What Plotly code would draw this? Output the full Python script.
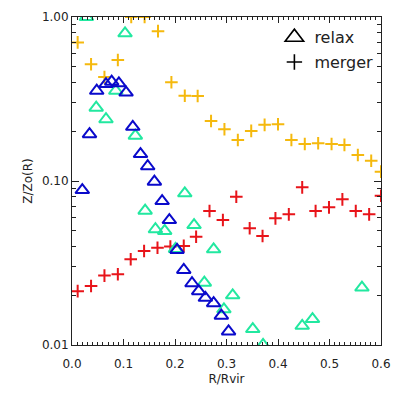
import plotly.graph_objects as go

# ---- data ----
merger_hi_x = [0.011, 0.037, 0.063, 0.089, 0.115, 0.141, 0.167, 0.193, 0.219, 0.244, 0.270, 0.296,
               0.322, 0.348, 0.374, 0.400, 0.426, 0.452, 0.478, 0.504, 0.529, 0.555, 0.581, 0.600]
merger_hi_y = [0.70, 0.515, 0.43, 0.547, 1.0, 1.0, 0.82, 0.40, 0.331, 0.330, 0.232, 0.207,
               0.178, 0.202, 0.220, 0.222, 0.178, 0.168, 0.170, 0.168, 0.166, 0.144, 0.133, 0.114]

merger_lo_x = [0.011, 0.037, 0.063, 0.089, 0.114, 0.140, 0.166, 0.191, 0.217, 0.241, 0.267, 0.293,
               0.319, 0.345, 0.370, 0.395, 0.421, 0.447, 0.473, 0.499, 0.525, 0.551, 0.577, 0.600]
merger_lo_y = [0.0213, 0.0229, 0.0265, 0.0270, 0.0333, 0.0374, 0.0392, 0.0398, 0.0402, 0.0457,
               0.0656, 0.0578, 0.0802, 0.0515, 0.0462, 0.0592, 0.0626, 0.0915, 0.0656, 0.0691,
               0.0773, 0.0656, 0.0626, 0.0813]

relax_blue_x = [0.020, 0.034, 0.048, 0.066, 0.077, 0.091, 0.105, 0.118, 0.133, 0.147, 0.160,
                0.175, 0.189, 0.204, 0.217, 0.233, 0.246, 0.259, 0.275, 0.290, 0.304]
relax_blue_y = [0.088, 0.193, 0.355, 0.390, 0.403, 0.394, 0.346, 0.214, 0.146, 0.123, 0.099,
                0.0755, 0.0578, 0.0380, 0.0287, 0.0238, 0.0213, 0.0194, 0.0180, 0.0151, 0.0121]

relax_green_x = [0.028, 0.047, 0.066, 0.085, 0.103, 0.123, 0.142, 0.162, 0.180, 0.201, 0.219,
                 0.237, 0.257, 0.275, 0.295, 0.312, 0.351, 0.371, 0.447, 0.467, 0.563]
relax_green_y = [1.00, 0.280, 0.238, 0.355, 0.795, 0.189, 0.0659, 0.0508, 0.0496, 0.0385, 0.0841,
                 0.0539, 0.0240, 0.0383, 0.0165, 0.0201, 0.0125, 0.0100, 0.0131, 0.0144, 0.0224]

x_ticks = [0.0, 0.1, 0.2, 0.3, 0.4, 0.5, 0.6]
x_tick_text = ["0.0", "0.1", "0.2", "0.3", "0.4", "0.5", "0.6"]
y_ticks = [0.01, 0.1, 1.0]
y_tick_text = ["0.01", "0.10", "1.00"]
y_minor = [0.02, 0.03, 0.04, 0.05, 0.06, 0.07, 0.08, 0.09,
           0.2, 0.3, 0.4, 0.5, 0.6, 0.7, 0.8, 0.9]

YELLOW = "#F5B90E"
RED = "#E8141A"
BLUE = "#0A0ACB"
GREEN = "#22E8A0"
FONT = "DejaVu Sans"

fig = go.Figure()

fig.add_trace(go.Scatter(x=merger_hi_x, y=merger_hi_y, mode="markers", showlegend=False,
                         marker=dict(symbol="cross-thin-open", size=9,
                                     line=dict(width=2, color=YELLOW), color=YELLOW)))
fig.add_trace(go.Scatter(x=merger_lo_x, y=merger_lo_y, mode="markers", showlegend=False,
                         marker=dict(symbol="cross-thin-open", size=9,
                                     line=dict(width=2, color=RED), color=RED)))
fig.add_trace(go.Scatter(x=relax_green_x, y=relax_green_y, mode="markers", showlegend=False,
                         marker=dict(symbol="triangle-up-open", size=12,
                                     line=dict(width=2, color=GREEN), color=GREEN)))
fig.add_trace(go.Scatter(x=relax_blue_x, y=relax_blue_y, mode="markers", showlegend=False,
                         marker=dict(symbol="triangle-up-open", size=12,
                                     line=dict(width=2, color=BLUE), color=BLUE)))

# legend entries
fig.add_trace(go.Scatter(x=[None], y=[None], mode="markers", name="relax", legendgroup="a",
                         marker=dict(symbol="triangle-up-open", size=16,
                                     line=dict(width=1.6, color="black"), color="black")))
fig.add_trace(go.Scatter(x=[None], y=[None], mode="markers", name="merger", legendgroup="b",
                         marker=dict(symbol="cross-thin-open", size=11,
                                     line=dict(width=1.6, color="black"), color="black")))

axis_common = dict(showgrid=False, zeroline=False, showline=True, linecolor="#222",
                   linewidth=1, mirror="ticks", ticks="inside", tickcolor="#222",
                   automargin=False,
                   tickfont=dict(family=FONT, size=12, color="#222"))

fig.update_xaxes(range=[0, 0.6], tickvals=x_ticks, ticktext=x_tick_text, ticklen=6,
                 ticklabelstandoff=8,
                 title=dict(text="R/Rvir", font=dict(family=FONT, size=12, color="#222"), standoff=4),
                 minor=dict(dtick=0.01, tick0=0, ticklen=3, ticks="inside", tickcolor="#222"),
                 **axis_common)
fig.update_yaxes(type="log", range=[-2, 0], tickvals=y_ticks, ticktext=y_tick_text, ticklen=7,
                 title=dict(text="Z/Zo(R)", font=dict(family=FONT, size=12, color="#222"), standoff=6),
                 minor=dict(tickvals=y_minor, ticklen=4, ticks="inside", tickcolor="#222"),
                 **axis_common)

# the page body adds an 8px offset, so the figure is sized to fit the window
fig.update_layout(
    width=402, height=387,
    margin=dict(l=64, r=29, t=9, b=50),
    paper_bgcolor="white", plot_bgcolor="white",
    font=dict(family=FONT, color="#222"),
    legend=dict(x=0.655, y=0.99, xanchor="left", yanchor="top",
                bgcolor="rgba(0,0,0,0)", font=dict(family=FONT, size=16, color="#222"),
                itemsizing="trace", tracegroupgap=1),
)

fig.write_html("out.html")
